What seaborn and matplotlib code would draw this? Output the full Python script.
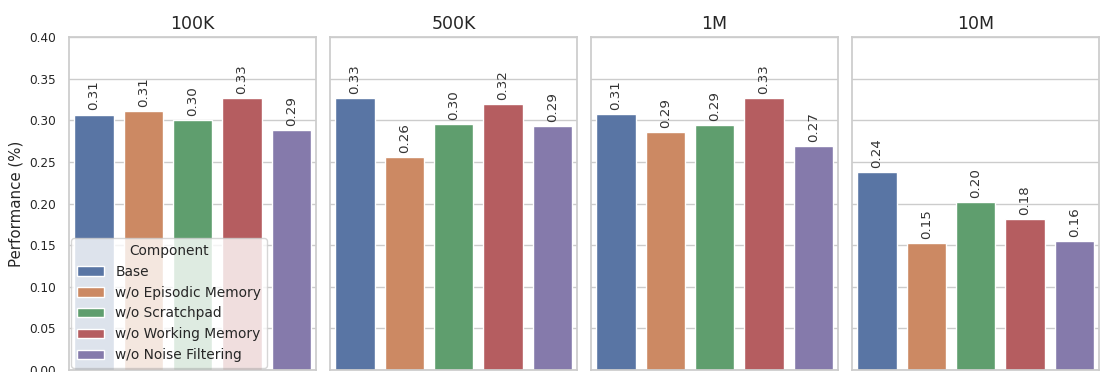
import pandas as pd
import matplotlib.pyplot as plt
import seaborn as sns

sns.set_theme(style="whitegrid")

# dataset sizes (one panel each) and ablation components
sizes = ["100K", "500K", "1M", "10M"]
components = ["Base", "w/o Episodic Memory", "w/o Scratchpad",
              "w/o Working Memory", "w/o Noise Filtering"]

# performance per component, one value per dataset size
base = [0.307, 0.3265, 0.308, 0.2376]
no_episodic = [0.311, 0.2556, 0.2855, 0.1522]
no_scratchpad = [0.300, 0.2955, 0.294, 0.2016]
no_working = [0.3265, 0.3196, 0.3272, 0.1808]
no_noise = [0.288, 0.2932, 0.2688, 0.1552]

rows = []
for comp, vals in zip(components, [base, no_episodic, no_scratchpad, no_working, no_noise]):
    for size, v in zip(sizes, vals):
        rows.append({"Size": size, "Component": comp, "Performance": v})
df = pd.DataFrame(rows)

fig, axes = plt.subplots(1, 4, figsize=(11.03, 3.72), dpi=100, sharey=True)
fig.subplots_adjust(left=0.0628, right=0.9964, top=0.8997, bottom=0.006, wspace=0.058)

for i, (ax, size) in enumerate(zip(axes, sizes)):
    sub = df[df["Size"] == size]
    sns.barplot(data=sub, x="Component", y="Performance", hue="Component",
                order=components, hue_order=components, palette="deep",
                legend=False, ax=ax)
    for c in ax.containers:
        ax.bar_label(c, fmt="%.2f", rotation=90, padding=3, fontsize=9.6, color="#333333")
    ax.set_title(size, fontsize=12.5)
    ax.set_xlabel("")
    ax.set_xticks([])
    ax.set_ylim(0, 0.40)
    ax.tick_params(axis="y", labelsize=8.7)
    ax.set_ylabel("Performance (%)" if i == 0 else "", fontsize=10.8)

ax0 = axes[0]
ax0.legend(handles=[c[0] for c in ax0.containers], labels=components,
           title="Component", loc="lower left", fontsize=9.9, title_fontsize=9.9,
           borderaxespad=0.15)

fig.savefig("out.png", dpi=100)
